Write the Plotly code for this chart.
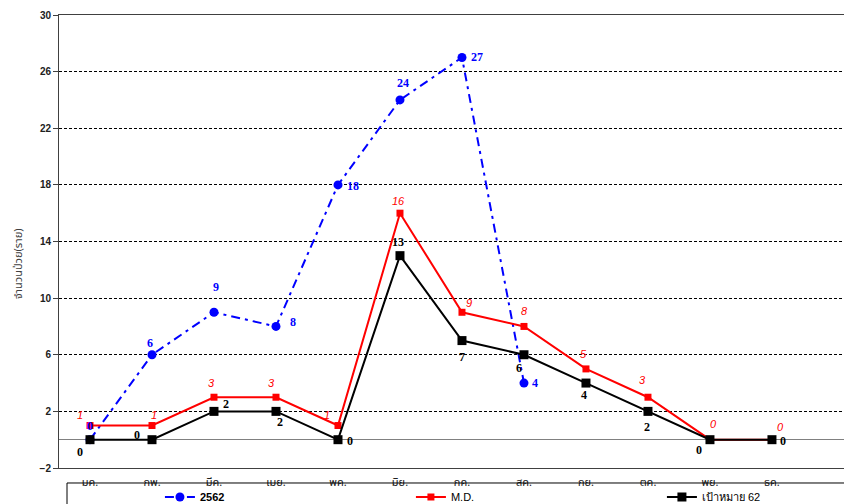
import plotly.graph_objects as go

# ---- data ----
months = ["มค.", "กพ.", "มีค.", "เมย.", "พค.", "มิย.", "กค.", "สค.", "กย.", "ตค.", "พย.", "ธค."]
cases_2562 = [0, 6, 9, 8, 18, 24, 27, 4]
md_values = [1, 1, 3, 3, 1, 16, 9, 8, 5, 3, 0, 0]
target_62 = [0, 0, 2, 2, 0, 13, 7, 6, 4, 2, 0, 0]
y_ticks = [-2, 2, 6, 10, 14, 18, 22, 26, 30]
series_names = ["2562", "M.D.", "เป้าหมาย 62"]
y_title = "จำนวนป่วย(ราย)"

# ---- styles (label offsets in px: (xshift, yshift)) ----
blue_off = [(0, 14), (-2, 12), (2, 25), (17, 4), (15, -1), (3, 17), (15, 0), (11, 0)]
red_off = [(-10, 11), (2, 11), (-2, 14), (-4, 14), (-11, 11), (-1, 12), (7, 9), (1, 15),
           (-2, 15), (-5, 17), (4, 16), (9, 13)]
black_off = [(-10, -12), (-15, 5), (12, 7), (4, -11), (12, -1), (-2, 14), (0, -16), (-5, -13),
             (-2, -12), (-1, -16), (-11, -10), (11, -1)]

SANS = "Liberation Sans, Arial, sans-serif"
SERIF = "Liberation Serif, Times New Roman, serif"
THAI = "Noto Sans Thai, Tahoma, Loma, Garuda, Liberation Sans, sans-serif"

fig = go.Figure()
fig.add_trace(go.Scatter(
    x=months[:len(cases_2562)], y=cases_2562, name="<b>" + series_names[0] + "</b>",
    mode="lines+markers",
    line=dict(color="#0000FF", width=2, dash="9px,5px,3px,5px"),
    marker=dict(symbol="circle", size=9, color="#0000FF"),
))
fig.add_trace(go.Scatter(
    x=months, y=md_values, name=series_names[1],
    mode="lines+markers",
    line=dict(color="#FF0000", width=2),
    marker=dict(symbol="square", size=7, color="#FF0000"),
))
fig.add_trace(go.Scatter(
    x=months, y=target_62, name=series_names[2],
    mode="lines+markers",
    line=dict(color="#000000", width=2),
    marker=dict(symbol="square", size=9, color="#000000"),
))

annotations = []
def add_labels(values, offs, font):
    for i, v in enumerate(values):
        dx, dy = offs[i]
        annotations.append(dict(x=months[i], y=v, xref="x", yref="y", text=str(v),
                                showarrow=False, xshift=dx, yshift=dy, font=font))

add_labels(cases_2562, blue_off, dict(family=SERIF, size=12, color="#0000FF", weight="bold"))
add_labels(md_values, red_off, dict(family=SANS, size=11, color="#FF0000", style="italic"))
add_labels(target_62, black_off, dict(family=SERIF, size=12, color="#000000", weight="bold"))

annotations.append(dict(text=y_title, xref="paper", yref="paper", x=-0.051, y=0.45,
                        xanchor="center", yanchor="middle",
                        textangle=-90, showarrow=False,
                        font=dict(family=THAI, size=11, color="#404040")))

xr = [-0.5, 12.42]
boundaries = [i - 0.5 for i in range(len(months) + 1)]
zero_pos = (0 - y_ticks[0]) / (y_ticks[-1] - y_ticks[0])

fig.update_layout(
    width=852, height=504,
    margin=dict(l=51, r=0, t=7, b=44, autoexpand=False),
    paper_bgcolor="white", plot_bgcolor="white",
    showlegend=True,
    legend=dict(orientation="h", x=0.126, xanchor="left", y=-0.064, yanchor="middle",
                font=dict(family=SANS, size=11, color="#000000"),
                entrywidth=206, entrywidthmode="pixels",
                bgcolor="rgba(0,0,0,0)", borderwidth=0),
    annotations=annotations,
    xaxis=dict(type="category", categoryarray=months, range=xr,
               showgrid=False, zeroline=False, ticks="", ticklabelstandoff=4,
               showline=True, linecolor="#404040", linewidth=1, mirror=True,
               tickfont=dict(family=THAI, size=11, color="#202020"),
               automargin=False),
    xaxis2=dict(type="linear", overlaying="x", anchor="free", position=zero_pos,
                range=xr, tickmode="array", tickvals=boundaries, ticks="outside",
                ticklen=5, tickcolor="#000000", showticklabels=False, showgrid=False,
                zeroline=False, showline=True, linecolor="#808080", automargin=False),
    xaxis3=dict(type="linear", overlaying="x", anchor="free", position=zero_pos,
                range=xr, tickmode="array", tickvals=boundaries, ticks="inside",
                ticklen=5, tickcolor="#000000", showticklabels=False, showgrid=False,
                zeroline=False, showline=False, automargin=False),
    yaxis=dict(range=[y_ticks[0], y_ticks[-1]], tickmode="array", tickvals=y_ticks,
               ticks="outside", ticklen=5, tickcolor="#404040",
               showgrid=True, gridcolor="#000000", gridwidth=1, griddash="3px,2px",
               zeroline=True, zerolinecolor="#808080", zerolinewidth=1,
               showline=True, linecolor="#404040", linewidth=1,
               tickfont=dict(family=SANS, size=10, color="#202020", weight="bold"),
               automargin=False),
    shapes=[dict(type="rect", xref="paper", yref="paper",
                 x0=0.01, x1=1.05, y0=-0.12, y1=-0.0331,
                 line=dict(color="#000000", width=1), fillcolor="rgba(0,0,0,0)")],
)

fig.write_html("out.html")
